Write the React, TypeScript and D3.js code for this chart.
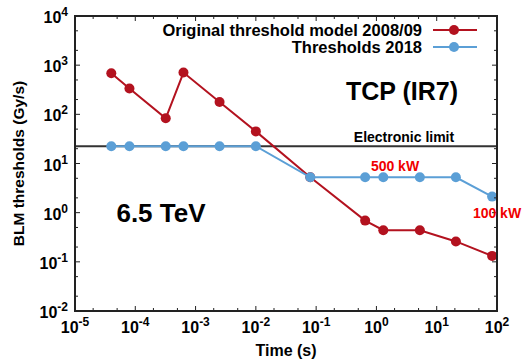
import { useEffect, useRef } from "react";
import * as d3 from "d3";

// time (s) of each threshold point
const times = [4e-5, 8e-5, 3.2e-4, 6.3e-4, 2.5e-3, 1.0e-2, 0.08, 0.65, 1.3, 5.25, 20.8, 83];
const original2008 = [687, 334, 83, 708, 178, 45, 5.25, 0.69, 0.44, 0.44, 0.26, 0.132];
const thresholds2018 = [22.5, 22.5, 22.5, 22.5, 22.5, 22.5, 5.25, 5.25, 5.25, 5.25, 5.25, 2.12];
const electronicLimit = 22.5;
const xTickExps = [-5, -4, -3, -2, -1, 0, 1, 2];
const yTickExps = [-2, -1, 0, 1, 2, 3, 4];

const RED = "#b3121f";
const BLUE = "#5b9fd6";
const FONT = "'Liberation Sans', Arial, Helvetica, sans-serif";

export default function App() {
  const svgRef = useRef<SVGSVGElement>(null);
  const width = 524;
  const height = 361;

  useEffect(() => {
    if (!svgRef.current) return;
    const svg = d3.select(svgRef.current);
    svg.selectAll("*").remove();

    const left = 75, right = 497, top = 16, bottom = 311;

    const x = d3.scaleLog().domain([1e-5, 1e2]).range([left, right]);
    const y = d3.scaleLog().domain([1e-2, 1e4]).range([bottom, top]);

    // minor ticks at 2 and 5 of each decade
    const minorX: number[] = [];
    xTickExps.slice(0, -1).forEach((e) => minorX.push(2 * 10 ** e, 5 * 10 ** e));
    const minorY: number[] = [];
    yTickExps.slice(0, -1).forEach((e) => minorY.push(2 * 10 ** e, 5 * 10 ** e));

    const g = svg.append("g");

    // electronic limit
    g.append("line")
      .attr("x1", left).attr("x2", right)
      .attr("y1", y(electronicLimit)).attr("y2", y(electronicLimit))
      .attr("stroke", "#333").attr("stroke-width", 2);

    const line = d3.line<[number, number]>()
      .x((d) => x(d[0]))
      .y((d) => y(d[1]));

    const drawSeries = (vals: number[], color: string) => {
      const pts = times.map((t, i) => [t, vals[i]] as [number, number]);
      g.append("path")
        .datum(pts)
        .attr("fill", "none")
        .attr("stroke", color)
        .attr("stroke-width", 2)
        .attr("d", line);
      g.selectAll(null)
        .data(pts)
        .enter()
        .append("circle")
        .attr("cx", (d) => x(d[0]))
        .attr("cy", (d) => y(d[1]))
        .attr("r", 5)
        .attr("fill", color);
    };
    drawSeries(original2008, RED);
    drawSeries(thresholds2018, BLUE);

    // ticks
    const ticks = g.append("g").attr("stroke", "#222").attr("stroke-width", 1);
    const addX = (vals: number[], len: number) => {
      vals.forEach((v) => {
        ticks.append("line").attr("x1", x(v)).attr("x2", x(v)).attr("y1", bottom).attr("y2", bottom - len);
        ticks.append("line").attr("x1", x(v)).attr("x2", x(v)).attr("y1", top).attr("y2", top + len);
      });
    };
    const addY = (vals: number[], len: number) => {
      vals.forEach((v) => {
        ticks.append("line").attr("y1", y(v)).attr("y2", y(v)).attr("x1", left).attr("x2", left + len);
        ticks.append("line").attr("y1", y(v)).attr("y2", y(v)).attr("x1", right).attr("x2", right - len);
      });
    };
    addX(xTickExps.map((e) => 10 ** e), 5);
    addX(minorX, 3);
    addY(yTickExps.map((e) => 10 ** e), 5);
    addY(minorY, 3);

    // frame
    g.append("rect")
      .attr("x", left).attr("y", top)
      .attr("width", right - left).attr("height", bottom - top)
      .attr("fill", "none").attr("stroke", "#222").attr("stroke-width", 2);

    const txt = (xp: number, yp: number, anchor: string, size: number, color = "#000") =>
      svg.append("text")
        .attr("x", xp).attr("y", yp)
        .attr("text-anchor", anchor)
        .attr("font-family", FONT)
        .attr("font-weight", "bold")
        .attr("font-size", size)
        .attr("fill", color);

    // tick labels
    xTickExps.forEach((e) => {
      const t = txt(x(10 ** e), 333, "middle", 16);
      t.append("tspan").text("10");
      t.append("tspan").attr("dy", -7).attr("font-size", 12).text(String(e));
    });
    yTickExps.forEach((e) => {
      const t = txt(68, y(10 ** e) + 7, "end", 16);
      t.append("tspan").text("10");
      t.append("tspan").attr("dy", -7).attr("font-size", 12).text(String(e));
    });

    // axis titles
    txt((left + right) / 2, 356, "middle", 16).text("Time (s)");
    txt(0, 0, "middle", 15.5)
      .attr("transform", `translate(24,${(top + bottom) / 2}) rotate(-90)`)
      .text("BLM thresholds (Gy/s)");

    // legend
    const legend = [
      { label: "Original threshold model 2008/09", color: RED, yy: 30 },
      { label: "Thresholds 2018", color: BLUE, yy: 47 },
    ];
    legend.forEach((l) => {
      txt(422, l.yy + 6, "end", 16.5).text(l.label);
      svg.append("line")
        .attr("x1", 433).attr("x2", 477)
        .attr("y1", l.yy).attr("y2", l.yy)
        .attr("stroke", l.color).attr("stroke-width", 2);
      svg.append("circle").attr("cx", 454).attr("cy", l.yy).attr("r", 5).attr("fill", l.color);
    });

    // annotations
    txt(402, 100, "middle", 25).text("TCP (IR7)");
    txt(161, 222, "middle", 26).text("6.5 TeV");
    txt(404, 142, "middle", 14).text("Electronic limit");
    txt(395, 171, "middle", 14, "#f00000").text("500 kW");
    txt(497, 218, "middle", 14, "#f00000").text("100 kW");
  }, []);

  return (
    <svg
      ref={svgRef}
      width={width}
      height={height}
      style={{ position: "absolute", left: 0, top: 0, background: "#fff" }}
    />
  );
}
